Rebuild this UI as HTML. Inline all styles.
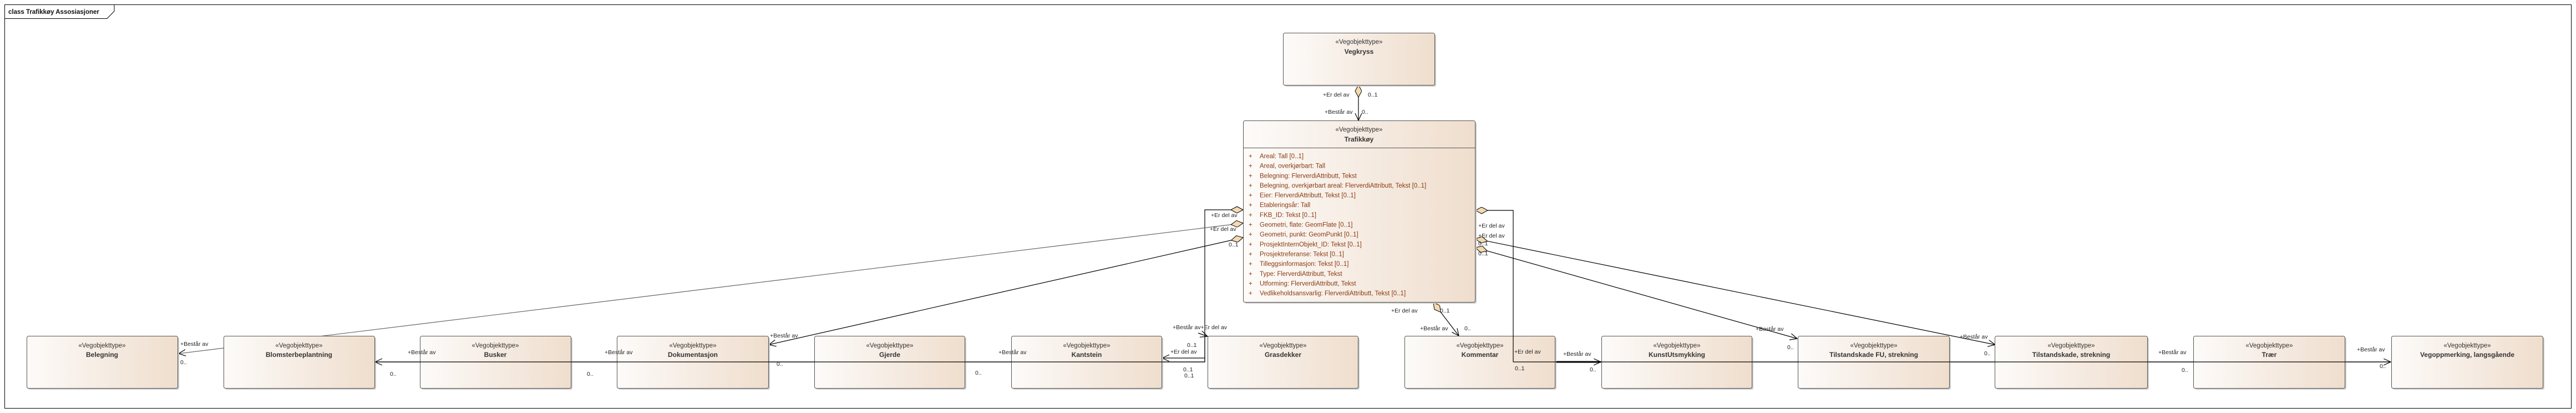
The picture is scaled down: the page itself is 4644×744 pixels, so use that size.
<!DOCTYPE html>
<html><head><meta charset="utf-8"><style>
html,body{margin:0;padding:0;background:#fff;}
svg{display:block;}
text{font-family:"Liberation Sans",sans-serif;}
.st{font-size:11.5px;fill:#333;text-anchor:middle;}
.nm{font-size:12px;font-weight:bold;fill:#333;text-anchor:middle;}
.lb{font-size:10.5px;fill:#222;}
.at{font-size:11.5px;fill:#8a3b12;}
</style></head><body>
<svg width="4644" height="744" viewBox="0 0 4644 744" xmlns="http://www.w3.org/2000/svg">
<defs>
<linearGradient id="g" x1="0" x2="1" y1="0" y2="0">
<stop offset="0" stop-color="#fdfbf9"/><stop offset="0.5" stop-color="#f6ece3"/><stop offset="1" stop-color="#efdecd"/>
</linearGradient>
<marker id="ar" markerUnits="userSpaceOnUse" markerWidth="16" markerHeight="14" refX="13" refY="6" orient="auto">
<path d="M0,0 L13,6 L0,12" fill="none" stroke="#000" stroke-width="1.2"/>
</marker>
<marker id="dm" markerUnits="userSpaceOnUse" markerWidth="24" markerHeight="14" refX="0" refY="6" orient="auto">
<path d="M0,6 L11,0 L22,6 L11,12 Z" fill="#f5d9b0" stroke="#000" stroke-width="1"/>
</marker>
</defs>
<rect x="8.5" y="8.5" width="4627" height="727" fill="none" stroke="#000" stroke-width="1"/>
<path d="M8.5,33.5 H193 L206,20 V8.5" fill="none" stroke="#000"/>
<text x="15" y="25" style="font-size:11.5px;font-weight:bold;fill:#111">class Trafikkøy Assosiasjoner</text>

<g fill="none" stroke="#000" stroke-width="1.2">
<line x1="2449" y1="153" x2="2449" y2="217" marker-start="url(#dm)" marker-end="url(#ar)"/>
<path d="M2241,378 H2172 V652 H676" marker-start="url(#dm)" marker-end="url(#ar)"/>
<path d="M2172,645 H2095" marker-end="url(#ar)"/>
<path d="M2160,600 L2177,606" marker-end="url(#ar)"/>
<line x1="2241" y1="402" x2="322" y2="637" stroke="#666" marker-start="url(#dm)" marker-end="url(#ar)"/>
<line x1="2241" y1="428" x2="1386" y2="621" marker-start="url(#dm)" marker-end="url(#ar)"/>
<path d="M2660,379 H2728 V652 H4310" marker-start="url(#dm)" marker-end="url(#ar)"/>
<line x1="2728" y1="652" x2="2886" y2="652" stroke-width="3" marker-end="url(#ar)"/>
<line x1="2660" y1="430" x2="3597" y2="621" marker-start="url(#dm)" marker-end="url(#ar)"/>
<line x1="2660" y1="446" x2="3240" y2="610" marker-start="url(#dm)" marker-end="url(#ar)"/>
<line x1="2584" y1="545" x2="2630" y2="605" marker-start="url(#dm)" marker-end="url(#ar)"/>
</g>

<g>
<rect x="2316" y="62" width="273" height="94" rx="3" fill="#ccc"/>
<rect x="2313.5" y="59.5" width="273" height="94" rx="3" fill="url(#g)" stroke="#555"/>
<text class="st" x="2450" y="79">«Vegobjekttype»</text><text class="nm" x="2450" y="97">Vegkryss</text>

<rect x="2244" y="220" width="418" height="327" rx="3" fill="#ccc"/>
<rect x="2241.5" y="217.5" width="418" height="327" rx="3" fill="url(#g)" stroke="#555"/>
<line x1="2241.5" y1="266.5" x2="2659.5" y2="266.5" stroke="#555"/>
<text class="st" x="2450" y="237">«Vegobjekttype»</text><text class="nm" x="2450" y="255">Trafikkøy</text>
<g class="at">
<text x="2251" y="285">+</text><text x="2271" y="285">Areal: Tall [0..1]</text>
<text x="2251" y="302.6">+</text><text x="2271" y="302.6">Areal, overkjørbart: Tall</text>
<text x="2251" y="320.3">+</text><text x="2271" y="320.3">Belegning: FlerverdiAttributt, Tekst</text>
<text x="2251" y="337.9">+</text><text x="2271" y="337.9">Belegning, overkjørbart areal: FlerverdiAttributt, Tekst [0..1]</text>
<text x="2251" y="355.6">+</text><text x="2271" y="355.6">Eier: FlerverdiAttributt, Tekst [0..1]</text>
<text x="2251" y="373.2">+</text><text x="2271" y="373.2">Etableringsår: Tall</text>
<text x="2251" y="390.9">+</text><text x="2271" y="390.9">FKB_ID: Tekst [0..1]</text>
<text x="2251" y="408.5">+</text><text x="2271" y="408.5">Geometri, flate: GeomFlate [0..1]</text>
<text x="2251" y="426.2">+</text><text x="2271" y="426.2">Geometri, punkt: GeomPunkt [0..1]</text>
<text x="2251" y="443.8">+</text><text x="2271" y="443.8">ProsjektInternObjekt_ID: Tekst [0..1]</text>
<text x="2251" y="461.5">+</text><text x="2271" y="461.5">Prosjektreferanse: Tekst [0..1]</text>
<text x="2251" y="479.1">+</text><text x="2271" y="479.1">Tilleggsinformasjon: Tekst [0..1]</text>
<text x="2251" y="496.8">+</text><text x="2271" y="496.8">Type: FlerverdiAttributt, Tekst</text>
<text x="2251" y="514.4">+</text><text x="2271" y="514.4">Utforming: FlerverdiAttributt, Tekst</text>
<text x="2251" y="532">+</text><text x="2271" y="532">Vedlikeholdsansvarlig: FlerverdiAttributt, Tekst [0..1]</text>
</g>
</g>

<g>
<rect x="51" y="608" width="272" height="94" rx="3" fill="#ccc"/><rect x="48.5" y="605.5" width="272" height="94" rx="3" fill="url(#g)" stroke="#555"/>
<text class="st" x="184" y="626">«Vegobjekttype»</text><text class="nm" x="184" y="643">Belegning</text>
<rect x="406" y="608" width="272" height="94" rx="3" fill="#ccc"/><rect x="403.5" y="605.5" width="272" height="94" rx="3" fill="url(#g)" stroke="#555"/>
<text class="st" x="539" y="626">«Vegobjekttype»</text><text class="nm" x="539" y="643">Blomsterbeplantning</text>
<rect x="760" y="608" width="272" height="94" rx="3" fill="#ccc"/><rect x="757.5" y="605.5" width="272" height="94" rx="3" fill="url(#g)" stroke="#555"/>
<text class="st" x="893" y="626">«Vegobjekttype»</text><text class="nm" x="893" y="643">Busker</text>
<rect x="1115" y="608" width="273" height="94" rx="3" fill="#ccc"/><rect x="1112.5" y="605.5" width="273" height="94" rx="3" fill="url(#g)" stroke="#555"/>
<text class="st" x="1249" y="626">«Vegobjekttype»</text><text class="nm" x="1249" y="643">Dokumentasjon</text>
<rect x="1471" y="608" width="271" height="94" rx="3" fill="#ccc"/><rect x="1468.5" y="605.5" width="271" height="94" rx="3" fill="url(#g)" stroke="#555"/>
<text class="st" x="1604" y="626">«Vegobjekttype»</text><text class="nm" x="1604" y="643">Gjerde</text>
<rect x="1826" y="608" width="271" height="94" rx="3" fill="#ccc"/><rect x="1823.5" y="605.5" width="271" height="94" rx="3" fill="url(#g)" stroke="#555"/>
<text class="st" x="1959" y="626">«Vegobjekttype»</text><text class="nm" x="1959" y="643">Kantstein</text>
<rect x="2180" y="608" width="271" height="94" rx="3" fill="#ccc"/><rect x="2177.5" y="605.5" width="271" height="94" rx="3" fill="url(#g)" stroke="#555"/>
<text class="st" x="2313" y="626">«Vegobjekttype»</text><text class="nm" x="2313" y="643">Grasdekker</text>
<rect x="2535" y="608" width="271" height="94" rx="3" fill="#ccc"/><rect x="2532.5" y="605.5" width="271" height="94" rx="3" fill="url(#g)" stroke="#555"/>
<text class="st" x="2668" y="626">«Vegobjekttype»</text><text class="nm" x="2668" y="643">Kommentar</text>
<rect x="2890" y="608" width="271" height="94" rx="3" fill="#ccc"/><rect x="2887.5" y="605.5" width="271" height="94" rx="3" fill="url(#g)" stroke="#555"/>
<text class="st" x="3023" y="626">«Vegobjekttype»</text><text class="nm" x="3023" y="643">KunstUtsmykking</text>
<rect x="3244" y="608" width="273" height="94" rx="3" fill="#ccc"/><rect x="3241.5" y="605.5" width="273" height="94" rx="3" fill="url(#g)" stroke="#555"/>
<text class="st" x="3378" y="626">«Vegobjekttype»</text><text class="nm" x="3378" y="643">Tilstandskade FU, strekning</text>
<rect x="3599" y="608" width="275" height="94" rx="3" fill="#ccc"/><rect x="3596.5" y="605.5" width="275" height="94" rx="3" fill="url(#g)" stroke="#555"/>
<text class="st" x="3734" y="626">«Vegobjekttype»</text><text class="nm" x="3734" y="643">Tilstandskade, strekning</text>
<rect x="3957" y="608" width="273" height="94" rx="3" fill="#ccc"/><rect x="3954.5" y="605.5" width="273" height="94" rx="3" fill="url(#g)" stroke="#555"/>
<text class="st" x="4091" y="626">«Vegobjekttype»</text><text class="nm" x="4091" y="643">Trær</text>
<rect x="4314" y="608" width="273" height="94" rx="3" fill="#ccc"/><rect x="4311.5" y="605.5" width="273" height="94" rx="3" fill="url(#g)" stroke="#555"/>
<text class="st" x="4448" y="626">«Vegobjekttype»</text><text class="nm" x="4448" y="643">Vegoppmerking, langsgående</text>
</g>

<g fill="none" stroke="#000" stroke-width="1.2">
<path d="M2172,652 H676"/>
<path d="M2728,652 H4310"/>
<line x1="2172" y1="600" x2="2172" y2="652"/>
<line x1="2728" y1="605" x2="2728" y2="652"/>
</g>

<g class="lb">
<text x="2385" y="174">+Er del av</text><text x="2466" y="174">0..1</text>
<text x="2388" y="205">+Består av</text><text x="2455" y="205">0..</text>
<text x="2183" y="391">+Er del av</text><text x="2181" y="416">+Er del av</text><text x="2215" y="444">0..1</text>
<text x="2665" y="410">+Er del av</text><text x="2665" y="428">+Er del av</text>
<text x="2665" y="442">0..1</text><text x="2665" y="460">0..1</text>
<text x="2508" y="563">+Er del av</text><text x="2596" y="563">0..1</text>
<text x="2560" y="595">+Består av</text><text x="2640" y="595">0..</text>
<text x="325" y="623">+Består av</text><text x="325" y="656">0..</text>
<text x="735" y="638">+Består av</text><text x="703" y="677">0..</text>
<text x="1090" y="638">+Består av</text><text x="1058" y="677">0..</text>
<text x="1388" y="608">+Består av</text><text x="1400" y="659">0..</text>
<text x="1800" y="638">+Består av</text><text x="1758" y="675">0..</text>
<text x="2114" y="593">+Består av+Er del av</text>
<text x="2110" y="637">+Er del av</text><text x="2140" y="625">0..1</text>
<text x="2133" y="669">0..1</text><text x="2135" y="680">0..1</text>
<text x="2730" y="637">+Er del av</text><text x="2731" y="667">0..1</text>
<text x="2818" y="641">+Består av</text><text x="2866" y="669">0..</text>
<text x="3165" y="596">+Består av</text><text x="3222" y="629">0..</text>
<text x="3533" y="610">+Består av</text><text x="3577" y="640">0..</text>
<text x="3891" y="638">+Består av</text><text x="3933" y="670">0..</text>
<text x="4249" y="633">+Består av</text><text x="4290" y="663">0..</text>
</g>
</svg>
</body></html>
